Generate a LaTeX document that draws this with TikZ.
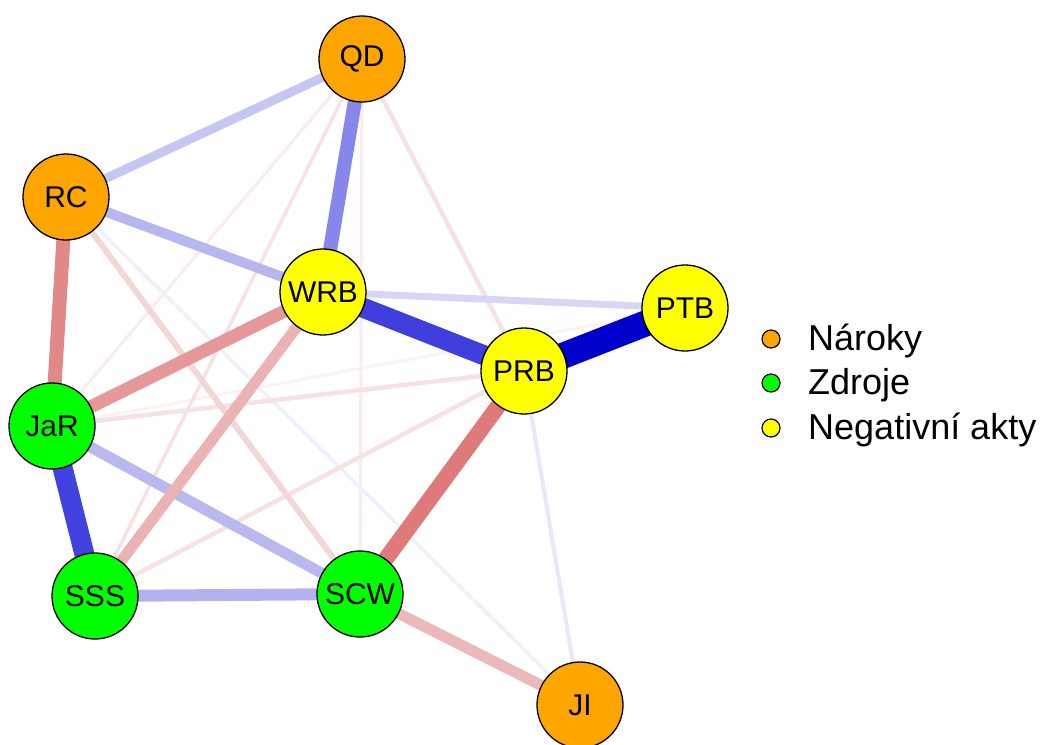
\documentclass[tikz,border=0pt]{standalone}
\usepackage{fontspec}
\setmainfont{Liberation Sans}
\usetikzlibrary{backgrounds}
\definecolor{nOr}{RGB}{255,165,0}
\definecolor{nGr}{RGB}{0,255,0}
\definecolor{nYe}{RGB}{255,255,0}
\definecolor{bA}{RGB}{0,0,205}
\definecolor{bB}{RGB}{64,62,220}
\definecolor{bC}{RGB}{66,66,222}
\definecolor{bD}{RGB}{135,135,235}
\definecolor{bE}{RGB}{178,178,238}
\definecolor{bF}{RGB}{185,185,240}
\definecolor{bG}{RGB}{182,182,240}
\definecolor{bH}{RGB}{198,198,242}
\definecolor{bI}{RGB}{215,215,245}
\definecolor{bJ}{RGB}{232,232,250}
\definecolor{bK}{RGB}{240,240,253}
\definecolor{rA}{RGB}{222,122,122}
\definecolor{rB}{RGB}{225,137,137}
\definecolor{rC}{RGB}{230,152,152}
\definecolor{rD}{RGB}{235,180,180}
\definecolor{rE}{RGB}{235,185,185}
\definecolor{rF}{RGB}{242,215,215}
\definecolor{rG}{RGB}{246,226,226}
\definecolor{rH}{RGB}{250,236,236}
\definecolor{rI}{RGB}{252,242,242}
\tikzset{
  vert/.style={circle, draw=black, line width=1.3pt, minimum size=86pt, inner sep=0pt,
    font=\fontsize{30}{32}\selectfont},
  legdot/.style={circle, draw=black, line width=1.2pt, minimum size=18pt, inner sep=0pt},
  legtxt/.style={anchor=west, inner sep=0pt, font=\fontsize{36}{38}\selectfont},
  edge/.style={line cap=butt}
}
\begin{document}
\begin{tikzpicture}[x=1pt,y=-1pt]
\useasboundingbox (0,0) rectangle (1043,744);
\node[vert, fill=nOr] (QD)  at (362,59)  {QD};
\node[vert, fill=nOr] (RC)  at (66,197)  {RC};
\node[vert, fill=nYe] (WRB) at (323,292) {WRB};
\node[vert, fill=nYe] (PTB) at (685,308) {PTB};
\node[vert, fill=nYe] (PRB) at (524,371) {PRB};
\node[vert, fill=nGr] (JaR) at (52,426)  {JaR};
\node[vert, fill=nGr] (SSS) at (95,596)  {SSS};
\node[vert, fill=nGr] (SCW) at (360,594) {SCW};
\node[vert, fill=nOr] (JI)  at (580,705) {JI};
\begin{scope}[on background layer]
\draw[edge, rI, line width=3pt]   (JaR.center) -- (PTB.center);
\draw[edge, rH, line width=3pt]   (QD.center) -- (SCW.center);
\draw[edge, rH, line width=3pt]   (QD.center) -- (JaR.center);
\draw[edge, rG, line width=3.5pt] (QD.center) -- (SSS.center);
\draw[edge, bK, line width=3.5pt] (RC.center) -- (JI.center);
\draw[edge, bJ, line width=4pt]   (PRB.center) -- (JI.center);
\draw[edge, rG, line width=4.5pt] (PRB.center) -- (JaR.center);
\draw[edge, rG, line width=4.5pt] (PRB.center) -- (SSS.center);
\draw[edge, rG, line width=4.5pt] (QD.center) -- (PRB.center);
\draw[edge, rF, line width=6pt]   (RC.center) -- (SCW.center);
\draw[edge, bI, line width=7pt]   (WRB.center) -- (PTB.center);
\draw[edge, bH, line width=9pt]   (QD.center) -- (RC.center);
\draw[edge, bG, line width=10pt]  (RC.center) -- (WRB.center);
\draw[edge, bF, line width=11pt]  (JaR.center) -- (SCW.center);
\draw[edge, rE, line width=11pt]  (SCW.center) -- (JI.center);
\draw[edge, rD, line width=11pt]  (WRB.center) -- (SSS.center);
\draw[edge, bE, line width=12pt]  (SSS.center) -- (SCW.center);
\draw[edge, rC, line width=13pt]  (WRB.center) -- (JaR.center);
\draw[edge, rB, line width=14pt]  (RC.center) -- (JaR.center);
\draw[edge, bD, line width=14pt]  (QD.center) -- (WRB.center);
\draw[edge, rA, line width=16pt]  (PRB.center) -- (SCW.center);
\draw[edge, bC, line width=20pt]  (JaR.center) -- (SSS.center);
\draw[edge, bB, line width=20pt]  (WRB.center) -- (PRB.center);
\draw[edge, bA, line width=26pt]  (PRB.center) -- (PTB.center);
\end{scope}
\node[legdot, fill=nOr] (L1) at (771,339) {};
\node[legdot, fill=nGr] (L2) at (771,383) {};
\node[legdot, fill=nYe] (L3) at (771,428) {};
\node[legtxt] (T1) at (808,341) {Nároky};
\node[legtxt] (T2) at (808,385) {Zdroje};
\node[legtxt] (T3) at (808,430) {Negativní akty};
\end{tikzpicture}
\end{document}
